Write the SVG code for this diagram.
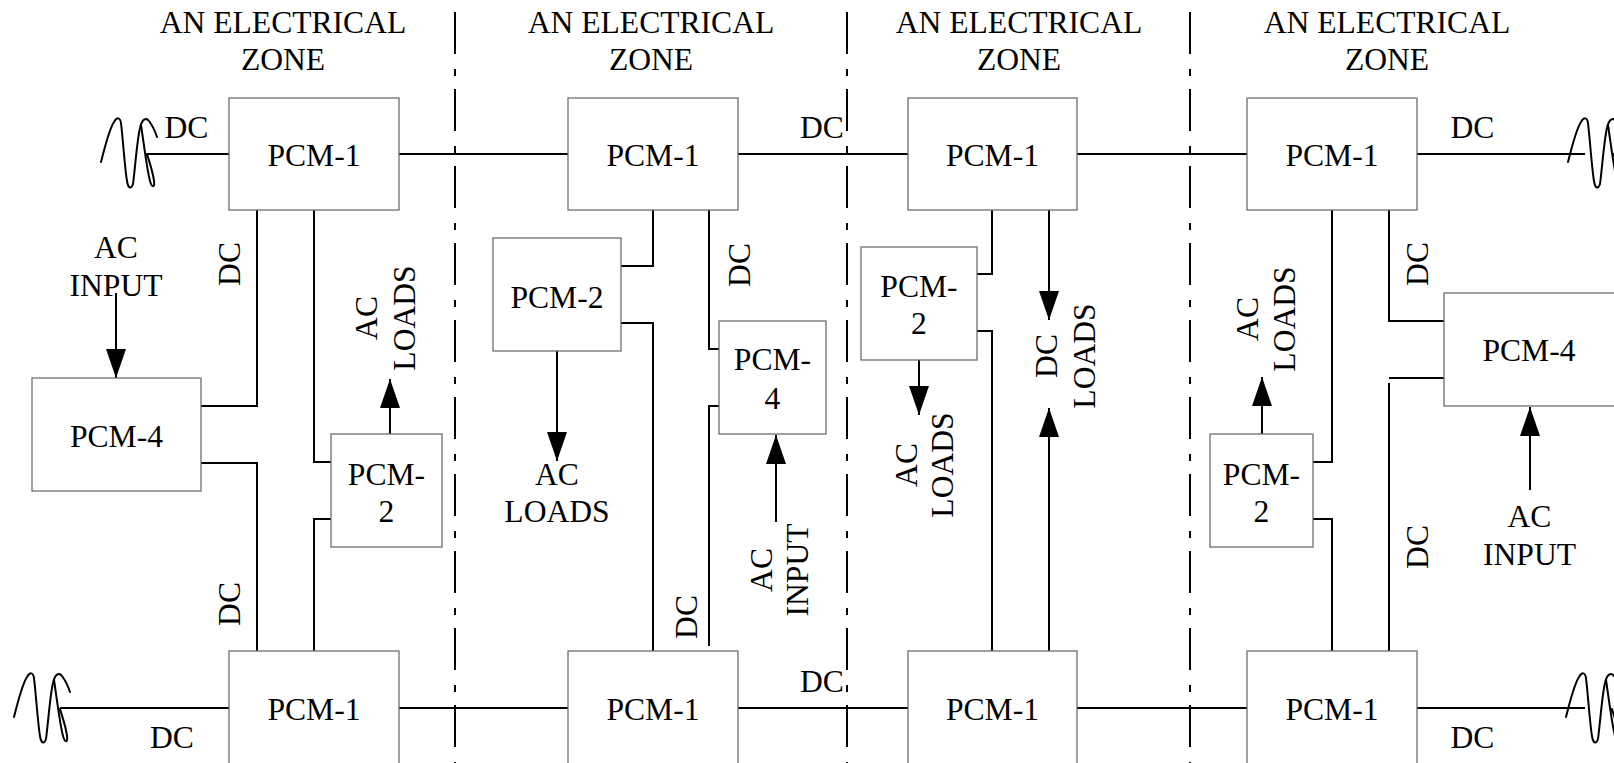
<svg xmlns="http://www.w3.org/2000/svg" width="1614" height="763" viewBox="0 0 1614 763">
<style>
text{font-family:"Liberation Serif","Times New Roman",serif;font-size:31.6px;fill:#000;text-anchor:middle}
.box{fill:#fff;stroke:#6e6e6e;stroke-width:1.3}
.w{fill:none;stroke:#000;stroke-width:2}
.arr{fill:none;stroke:#000;stroke-width:2;marker-end:url(#ah)}
.div{fill:none;stroke:#000;stroke-width:2;stroke-dasharray:42 15 7 13}
.sq{fill:none;stroke:#000;stroke-width:2;stroke-linecap:round;stroke-linejoin:round}
</style>
<defs>
<marker id="ah" markerUnits="userSpaceOnUse" markerWidth="30" markerHeight="20" refX="29" refY="10" orient="auto">
<path d="M0,0 L29,10 L0,20 z" fill="#000"/>
</marker>
<g id="squig">
<path class="sq" d="M101,162 C104,150 110,128 114,122 C117,117 120,117 121,123 C123,140 125,170 127,181 C128,188 131,190 133,184 C135,170 137,140 140,128 C142,119 146,117 149,121 C152,125 155,131 157,137"/>
<path class="sq" d="M141,125 C144,145 147,170 150,181 C152,188 155,188 154,181 C153,172 149,161 147,154"/>
</g>
</defs>
<rect width="1614" height="763" fill="#fff"/>

<g id="dividers">
<line class="div" x1="455" y1="12" x2="455" y2="763"/>
<line class="div" x1="847" y1="12" x2="847" y2="763"/>
<line class="div" x1="1190" y1="12" x2="1190" y2="763"/>
</g>

<g id="titles">
<text x="283" y="33">AN ELECTRICAL</text><text x="283" y="70">ZONE</text>
<text x="651" y="33">AN ELECTRICAL</text><text x="651" y="70">ZONE</text>
<text x="1019" y="33">AN ELECTRICAL</text><text x="1019" y="70">ZONE</text>
<text x="1387" y="33">AN ELECTRICAL</text><text x="1387" y="70">ZONE</text>
</g>

<g id="connectors">
<use href="#squig"/>
<use href="#squig" transform="translate(-87,555)"/>
<use href="#squig" transform="translate(1467,0)"/>
<use href="#squig" transform="translate(1465,555)"/>
<path class="w" d="M147,154 H229 M399,154 H568 M738,154 H908 M1077,154 H1247 M1417,154 H1585"/>
<path class="w" d="M60,708 H229 M399,708 H568 M738,708 H908 M1077,708 H1247 M1417,708 H1585"/>
<path class="w" d="M257,210 V406 H201 M201,463 H257 V651 M314,210 V462 H331 M331,519 H314 V651"/>
<path class="arr" d="M390,434 V379"/>
<path class="arr" d="M116,293 V378"/>
<path class="w" d="M653,210 V266 H621 M621,323 H653 V651 M709,210 V349 H719 M719,406 H709 V646"/>
<path class="arr" d="M557,351 V461"/>
<path class="arr" d="M776,522 V435"/>
<path class="w" d="M992,210 V274 H977 M977,331 H992 V651"/>
<path class="arr" d="M919,360 V415"/>
<path class="arr" d="M1049,210 V320"/>
<path class="arr" d="M1049,651 V408"/>
<path class="w" d="M1332,210 V462 H1313 M1313,519 H1332 V651 M1389,210 V321 H1444 M1444,378 H1389 M1389,383 V651"/>
<path class="arr" d="M1262,434 V377"/>
<path class="arr" d="M1530,490 V407"/>
</g>

<g id="z1-pcm1-top"><rect class="box" x="229" y="98" width="170" height="112"/><text x="314" y="166">PCM-1</text></g>
<g id="z1-pcm1-bot"><rect class="box" x="229" y="651" width="170" height="115"/><text x="314" y="720">PCM-1</text></g>
<g id="z1-pcm4"><rect class="box" x="32" y="378" width="169" height="113"/><text x="116.5" y="447">PCM-4</text></g>
<g id="z1-pcm2"><rect class="box" x="331" y="434" width="111" height="113"/><text x="386.5" y="485">PCM-</text><text x="386.5" y="522">2</text></g>

<g id="z2-pcm1-top"><rect class="box" x="568" y="98" width="170" height="112"/><text x="653" y="166">PCM-1</text></g>
<g id="z2-pcm1-bot"><rect class="box" x="568" y="651" width="170" height="115"/><text x="653" y="720">PCM-1</text></g>
<g id="z2-pcm2"><rect class="box" x="493" y="238" width="128" height="113"/><text x="557" y="308">PCM-2</text></g>
<g id="z2-pcm4"><rect class="box" x="719" y="321" width="107" height="113"/><text x="772.5" y="370">PCM-</text><text x="772.5" y="409">4</text></g>

<g id="z3-pcm1-top"><rect class="box" x="908" y="98" width="169" height="112"/><text x="992.5" y="166">PCM-1</text></g>
<g id="z3-pcm1-bot"><rect class="box" x="908" y="651" width="169" height="115"/><text x="992.5" y="720">PCM-1</text></g>
<g id="z3-pcm2"><rect class="box" x="861" y="247" width="116" height="113"/><text x="919" y="297">PCM-</text><text x="919" y="334">2</text></g>

<g id="z4-pcm1-top"><rect class="box" x="1247" y="98" width="170" height="112"/><text x="1332" y="166">PCM-1</text></g>
<g id="z4-pcm1-bot"><rect class="box" x="1247" y="651" width="170" height="115"/><text x="1332" y="720">PCM-1</text></g>
<g id="z4-pcm2"><rect class="box" x="1210" y="434" width="103" height="113"/><text x="1261.5" y="485">PCM-</text><text x="1261.5" y="522">2</text></g>
<g id="z4-pcm4"><rect class="box" x="1444" y="293" width="172" height="113"/><text x="1529" y="361">PCM-4</text></g>

<g id="labels">
<text x="186.5" y="138">DC</text>
<text x="822" y="138">DC</text>
<text x="1472.5" y="138">DC</text>
<text x="172" y="748">DC</text>
<text x="822" y="692">DC</text>
<text x="1472.5" y="748">DC</text>
<text transform="translate(240,264) rotate(-90)">DC</text>
<text transform="translate(240,604) rotate(-90)">DC</text>
<text transform="translate(750,265) rotate(-90)">DC</text>
<text transform="translate(697,617) rotate(-90)">DC</text>
<text transform="translate(1428,264) rotate(-90)">DC</text>
<text transform="translate(1428,547) rotate(-90)">DC</text>
<text x="116" y="258">AC</text><text x="116" y="296">INPUT</text>
<text x="557" y="485">AC</text><text x="557" y="522">LOADS</text>
<text x="1529.5" y="527">AC</text><text x="1529.5" y="565">INPUT</text>
<text transform="translate(377,318) rotate(-90)"><tspan x="0" y="0">AC</tspan><tspan x="0" y="38">LOADS</tspan></text>
<text transform="translate(772,570) rotate(-90)"><tspan x="0" y="0">AC</tspan><tspan x="0" y="36">INPUT</tspan></text>
<text transform="translate(917,465) rotate(-90)"><tspan x="0" y="0">AC</tspan><tspan x="0" y="36">LOADS</tspan></text>
<text transform="translate(1057,356) rotate(-90)"><tspan x="0" y="0">DC</tspan><tspan x="0" y="38">LOADS</tspan></text>
<text transform="translate(1258,319) rotate(-90)"><tspan x="0" y="0">AC</tspan><tspan x="0" y="37">LOADS</tspan></text>
</g>
</svg>
